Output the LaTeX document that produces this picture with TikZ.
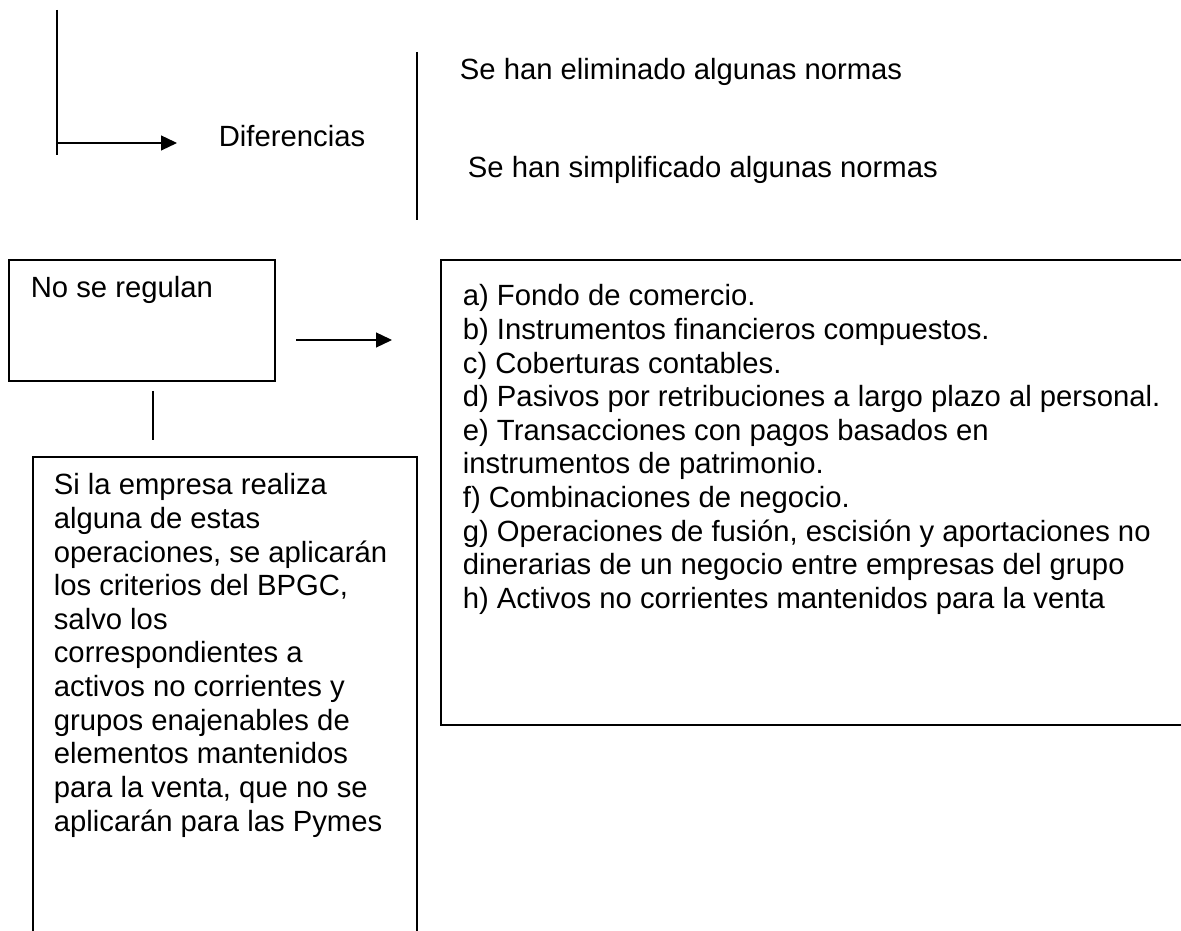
\documentclass[tikz,border=0pt]{standalone}
\usepackage{fontspec}
\setmainfont{Liberation Sans}
\usetikzlibrary{arrows.meta}
\begin{document}
\begin{tikzpicture}[x=0.4pt,y=-0.4pt, line width=0.7pt,
  txt/.style={anchor=base west, inner sep=0pt, font=\fontsize{11.7}{13.44}\selectfont},
  arr/.style={-{Triangle[length=6.4pt,width=6pt]}, line width=0.5pt},
  frame/.style={line width=0.75pt}]
\useasboundingbox (0,0) rectangle (1181,931);

% top-left bracket and arrow
\coordinate (v1top) at (57,10);
\coordinate (v1bot) at (57,155);
\draw[frame] (v1top) -- (v1bot);
\coordinate (a1s) at (57,143);
\coordinate (a1e) at (177,143);
\draw[arr] (a1s) -- (a1e);
\node[txt] (dif) at (218,147) {Diferencias};

% right separator and differences
\coordinate (v2top) at (417,52);
\coordinate (v2bot) at (417,220);
\draw[frame] (v2top) -- (v2bot);
\node[txt] (elim) at (459,80) {Se han eliminado algunas normas};
\node[txt] (simp) at (467,178) {Se han simplificado algunas normas};

% box "No se regulan"
\node[draw, frame, anchor=north west, minimum width=106.4pt, minimum height=48.4pt, inner sep=0pt] (box1) at (8,259) {};
\node[txt] (nsr) at (30,298) {No se regulan};

% arrow to list
\coordinate (a2s) at (296,340);
\coordinate (a2e) at (392,340);
\draw[arr] (a2s) -- (a2e);

% vertical connector
\coordinate (v3top) at (153,391);
\coordinate (v3bot) at (153,440);
\draw[frame] (v3top) -- (v3bot);

% bottom-left open box
\coordinate (b3bl) at (33,940);
\coordinate (b3tl) at (33,457);
\coordinate (b3tr) at (417,457);
\coordinate (b3br) at (417,940);
\draw[frame] (b3bl) -- (b3tl) -- (b3tr) -- (b3br);
\node[txt] (b3text) at (53,495) {\parbox[t]{150pt}{\raggedright\fontsize{11.7}{13.44}\selectfont
Si la empresa realiza\\
alguna de estas\\
operaciones, se aplicarán\\
los criterios del BPGC,\\
salvo los\\
correspondientes a\\
activos no corrientes y\\
grupos enajenables de\\
elementos mantenidos\\
para la venta, que no se\\
aplicarán para las Pymes}};

% right open box with list
\coordinate (b4tr) at (1190,260);
\coordinate (b4tl) at (441,260);
\coordinate (b4bl) at (441,725);
\coordinate (b4br) at (1190,725);
\draw[frame] (b4tr) -- (b4tl) -- (b4bl) -- (b4br);
\node[txt] (b4text) at (462,306) {\parbox[t]{300pt}{\raggedright\fontsize{11.7}{13.44}\selectfont
a) Fondo de comercio.\\
b) Instrumentos financieros compuestos.\\
c) Coberturas contables.\\
d) Pasivos por retribuciones a largo plazo al personal.\\
e) Transacciones con pagos basados en\\
instrumentos de patrimonio.\\
f) Combinaciones de negocio.\\
g) Operaciones de fusión, escisión y aportaciones no\\
dinerarias de un negocio entre empresas del grupo\\
h) Activos no corrientes mantenidos para la venta}};
\end{tikzpicture}
\end{document}
